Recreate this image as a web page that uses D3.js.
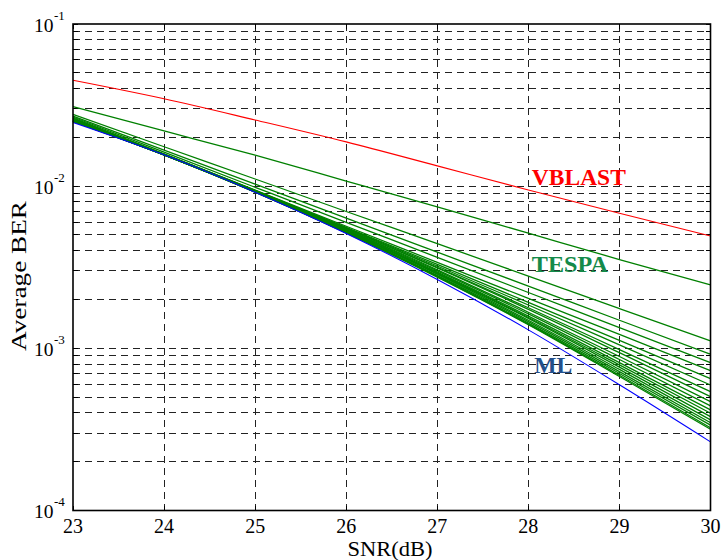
<!DOCTYPE html>
<html>
<head>
<meta charset="utf-8">
<script src="https://cdn.jsdelivr.net/npm/d3@7"></script>
<style>
  body { margin: 0; background: #fff; }
  svg text { font-family: "Liberation Serif", "Times New Roman", serif; }
</style>
</head>
<body>
<div id="chart"></div>
<script>
// SNR points (dB)
const snr = [23, 24, 25, 26, 27, 28, 29, 30];

// VBLAST curve
const vblast = [4.50e-2, 3.46e-2, 2.56e-2, 1.875e-2, 1.334e-2, 9.48e-3, 6.81e-3, 4.93e-3];

// ML curve
const ml = [2.47e-2, 1.56e-2, 9.18e-3, 5.11e-3, 2.66e-3, 1.30e-3, 5.96e-4, 2.65e-4];

// TESPA family (read top to bottom)
const tespa = [
  [3.09e-2, 2.19e-2, 1.552e-2, 1.076e-2, 7.45e-3, 5.13e-3, 3.53e-3, 2.46e-3],
  [2.77e-2, 1.75e-2, 1.107e-2, 6.98e-3, 4.42e-3, 2.79e-3, 1.76e-3, 1.11e-3],
  [2.70e-2, 1.67e-2, 1.03e-2, 6.35e-3, 3.92e-3, 2.42e-3, 1.49e-3, 9.20e-4],
  [2.67e-2, 1.62e-2, 9.84e-3, 5.98e-3, 3.64e-3, 2.21e-3, 1.34e-3, 8.17e-4],
  [2.64e-2, 1.58e-2, 9.46e-3, 5.66e-3, 3.39e-3, 2.03e-3, 1.22e-3, 7.28e-4],
  [2.61e-2, 1.57e-2, 9.38e-3, 5.57e-3, 3.29e-3, 1.92e-3, 1.12e-3, 6.50e-4],
  [2.59e-2, 1.57e-2, 9.36e-3, 5.53e-3, 3.22e-3, 1.85e-3, 1.05e-3, 5.94e-4],
  [2.57e-2, 1.56e-2, 9.36e-3, 5.47e-3, 3.16e-3, 1.78e-3, 9.82e-4, 5.41e-4],
  [2.56e-2, 1.57e-2, 9.42e-3, 5.50e-3, 3.13e-3, 1.74e-3, 9.40e-4, 5.04e-4],
  [2.55e-2, 1.56e-2, 9.31e-3, 5.41e-3, 3.05e-3, 1.67e-3, 8.91e-4, 4.69e-4],
  [2.54e-2, 1.57e-2, 9.29e-3, 5.37e-3, 3.00e-3, 1.63e-3, 8.53e-4, 4.42e-4],
  [2.54e-2, 1.56e-2, 9.27e-3, 5.32e-3, 2.95e-3, 1.58e-3, 8.17e-4, 4.17e-4],
  [2.53e-2, 1.56e-2, 9.27e-3, 5.31e-3, 2.92e-3, 1.55e-3, 7.91e-4, 3.98e-4],
  [2.52e-2, 1.57e-2, 9.27e-3, 5.30e-3, 2.89e-3, 1.53e-3, 7.66e-4, 3.79e-4],
  [2.52e-2, 1.57e-2, 9.27e-3, 5.28e-3, 2.87e-3, 1.49e-3, 7.41e-4, 3.62e-4],
  [2.51e-2, 1.56e-2, 9.21e-3, 5.22e-3, 2.82e-3, 1.46e-3, 7.19e-4, 3.48e-4],
  [2.51e-2, 1.56e-2, 9.21e-3, 5.20e-3, 2.79e-3, 1.43e-3, 7.00e-4, 3.36e-4],
  [2.51e-2, 1.56e-2, 9.18e-3, 5.16e-3, 2.77e-3, 1.41e-3, 6.82e-4, 3.24e-4],
  [2.51e-2, 1.56e-2, 9.18e-3, 5.15e-3, 2.75e-3, 1.40e-3, 6.70e-4, 3.17e-4]
];

// axis ticks
const xTicks = [23, 24, 25, 26, 27, 28, 29, 30];
const yDecades = [1e-4, 1e-3, 1e-2, 1e-1];
const yExponents = ["-4", "-3", "-2", "-1"];

const labels = [
  { text: "VBLAST", snr: 28.0, ber: 1.02e-2, color: "#ff0000", len: 94, dx: 3.5 },
  { text: "TESPA", snr: 28.0, ber: 2.97e-3, color: "#148a4a", len: 76, dx: 3.5 },
  { text: "ML", snr: 28.0, ber: 7.08e-4, color: "#23508c", len: 38, dx: 6 }
];

const W = 722, H = 560;
const margin = { top: 24, right: 11.5, bottom: 49.5, left: 73 };
const width = W - margin.left - margin.right,
      height = H - margin.top - margin.bottom;

const svg = d3.select("#chart").append("svg")
    .attr("width", W)
    .attr("height", H);

const g = svg.append("g")
    .attr("transform", "translate(" + margin.left + "," + margin.top + ")");

const x = d3.scaleLinear().domain([23, 30]).range([0, width]);
const y = d3.scaleLog().domain([1e-4, 1e-1]).range([height, 0]);

// grid: minor + major horizontals inside the box
const hGrid = [];
yDecades.slice(0, 3).forEach(d => {
  for (let k = 1; k <= 9; k++) {
    if (d === 1e-4 && k === 1) continue;
    hGrid.push(d * k);
  }
});

const dash = "7,5";
g.append("g").selectAll("line")
  .data(hGrid)
  .join("line")
    .attr("x1", 0).attr("x2", width)
    .attr("y1", d => y(d)).attr("y2", d => y(d))
    .attr("stroke", "#222")
    .attr("stroke-width", 1)
    .attr("stroke-dasharray", dash)
    .attr("shape-rendering", "crispEdges");

g.append("g").selectAll("line")
  .data(xTicks.slice(1, -1))
  .join("line")
    .attr("x1", d => x(d)).attr("x2", d => x(d))
    .attr("y1", 0).attr("y2", height)
    .attr("stroke", "#222")
    .attr("stroke-width", 1)
    .attr("stroke-dasharray", dash)
    .attr("shape-rendering", "crispEdges");

// little inward ticks at the box edges
const tickLen = 5;
const tk = g.append("g").attr("stroke", "#000").attr("stroke-width", 1)
    .attr("shape-rendering", "crispEdges");
hGrid.concat(yDecades).forEach(d => {
  tk.append("line").attr("x1", 0).attr("x2", tickLen).attr("y1", y(d)).attr("y2", y(d));
  tk.append("line").attr("x1", width - tickLen).attr("x2", width).attr("y1", y(d)).attr("y2", y(d));
});
xTicks.forEach(d => {
  tk.append("line").attr("x1", x(d)).attr("x2", x(d)).attr("y1", height).attr("y2", height - tickLen);
  tk.append("line").attr("x1", x(d)).attr("x2", x(d)).attr("y1", 0).attr("y2", tickLen);
});

// curves
const line = d3.line()
    .x((d, i) => x(snr[i]))
    .y(d => y(d))
    .curve(d3.curveMonotoneX);

g.append("g").selectAll("path")
  .data(tespa)
  .join("path")
    .attr("d", line)
    .attr("fill", "none")
    .attr("stroke", "#008000")
    .attr("stroke-width", 1.3);

g.append("path")
  .attr("d", line(ml))
  .attr("fill", "none")
  .attr("stroke", "#0000ff")
  .attr("stroke-width", 1.1);

g.append("path")
  .attr("d", line(vblast))
  .attr("fill", "none")
  .attr("stroke", "#ff0000")
  .attr("stroke-width", 1.1);

// frame
g.append("rect")
  .attr("x", 0).attr("y", 0)
  .attr("width", width).attr("height", height)
  .attr("fill", "none")
  .attr("stroke", "#000")
  .attr("stroke-width", 1.6);

// x tick labels
g.append("g").selectAll("text")
  .data(xTicks)
  .join("text")
    .attr("x", d => x(d))
    .attr("y", height + 22.5)
    .attr("text-anchor", "middle")
    .attr("font-size", 20)
    .text(d => d);

// y tick labels 10^n
const yl = g.append("g").selectAll("g")
  .data(yDecades)
  .join("g")
    .attr("transform", d => "translate(0," + y(d) + ")");
yl.append("text")
    .attr("x", -19.5)
    .attr("y", 7.5)
    .attr("text-anchor", "end")
    .attr("font-size", 19.5)
    .text("10");
yl.append("text")
    .attr("x", -19)
    .attr("y", -4.5)
    .attr("font-size", 13)
    .text((d, i) => yExponents[i]);

// axis titles
svg.append("text")
  .attr("x", 390)
  .attr("y", 556)
  .attr("text-anchor", "middle")
  .attr("font-size", 21)
  .attr("textLength", 85)
  .attr("lengthAdjust", "spacingAndGlyphs")
  .text("SNR(dB)");

svg.append("text")
  .attr("transform", "translate(26,276) rotate(-90)")
  .attr("text-anchor", "middle")
  .attr("font-size", 21)
  .attr("textLength", 150)
  .attr("lengthAdjust", "spacingAndGlyphs")
  .text("Average BER");

// curve labels
g.append("g").selectAll("text")
  .data(labels)
  .join("text")
    .attr("x", d => x(d.snr) + d.dx)
    .attr("y", d => y(d.ber))
    .attr("font-size", 24)
    .attr("font-weight", "bold")
    .attr("fill", d => d.color)
    .attr("textLength", d => d.len)
    .attr("lengthAdjust", "spacingAndGlyphs")
    .text(d => d.text);
</script>
</body>
</html>
